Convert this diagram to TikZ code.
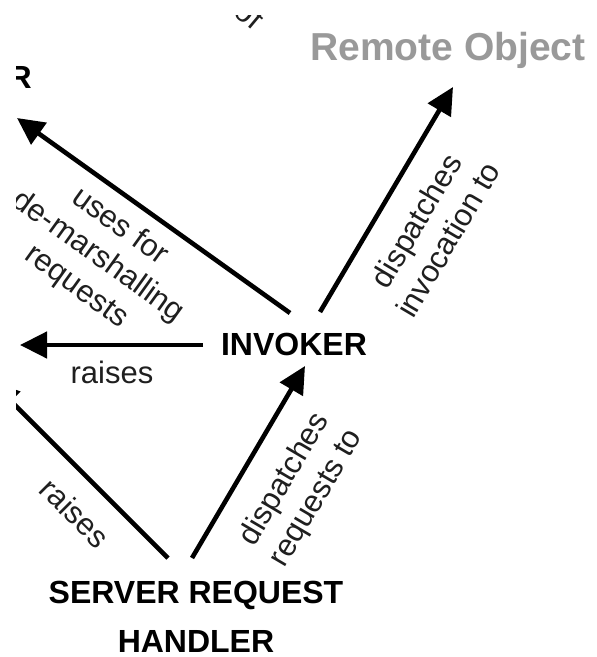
\documentclass[tikz,border=0pt]{standalone}
\usepackage{fontspec}
\setmainfont{Liberation Sans}
\usetikzlibrary{arrows.meta}
\begin{document}
\begin{tikzpicture}[x=1pt,y=-1pt,
  conn/.style={line width=4.6pt,-{Triangle[length=27pt,width=26pt]}},
  plainline/.style={line width=4.6pt},
  lbl/.style={font=\fontsize{31}{37}\selectfont, align=center, inner sep=0pt, text=black!88},
  ent/.style={font=\fontsize{32}{49}\selectfont\bfseries, align=center, inner sep=0pt},
  faded/.style={font=\fontsize{39}{47}\selectfont\bfseries, inner sep=0pt, text=black!40}]
\useasboundingbox (0,0) rectangle (597,657);
\fill[white] (0,0) rectangle (597,657);
\begin{scope}
\clip (16,15) rectangle (597,657);
% entities
\node[ent, anchor=base] (inv) at (294,355) {INVOKER};
\node[ent, anchor=base] (srh) at (196,652) {SERVER REQUEST\\HANDLER};
\node[faded, anchor=base] (ro) at (448,60) {Remote Object};
\node[ent, anchor=base east] (mar) at (32,88) {R};
% connector end points
\coordinate (invNW) at (290,313);
\coordinate (invNE) at (320,312);
\coordinate (invW) at (203,345);
\coordinate (invS) at (305,366);
\coordinate (roS) at (453,87);
\coordinate (marS) at (17,118);
\coordinate (leftE) at (20,345);
\coordinate (leftSE) at (-8,382);
\coordinate (srhL) at (168,558);
\coordinate (srhR) at (192,558);
% connectors
\draw[conn] (invNW) -- (marS);
\draw[conn] (invW) -- (leftE);
\draw[conn] (invNE) -- (roS);
\draw[conn] (srhR) -- (invS);
\draw[conn] (srhL) -- (leftSE);
% labels
\node[lbl, rotate=-35.7] (l1) at (98,257) {uses for\\de-marshalling\\requests};
\node[lbl, anchor=base] (l2) at (112,383) {raises};
\node[lbl, rotate=59.4] (l3) at (432,230) {dispatches\\invocation to};
\node[lbl, rotate=59.5] (l4) at (301,489) {dispatches\\requests to};
\node[lbl, rotate=-45] (l5) at (75,513) {raises};
\node[lbl, rotate=-40] (l6) at (250,14) {of};
\end{scope}
\end{tikzpicture}
\end{document}
